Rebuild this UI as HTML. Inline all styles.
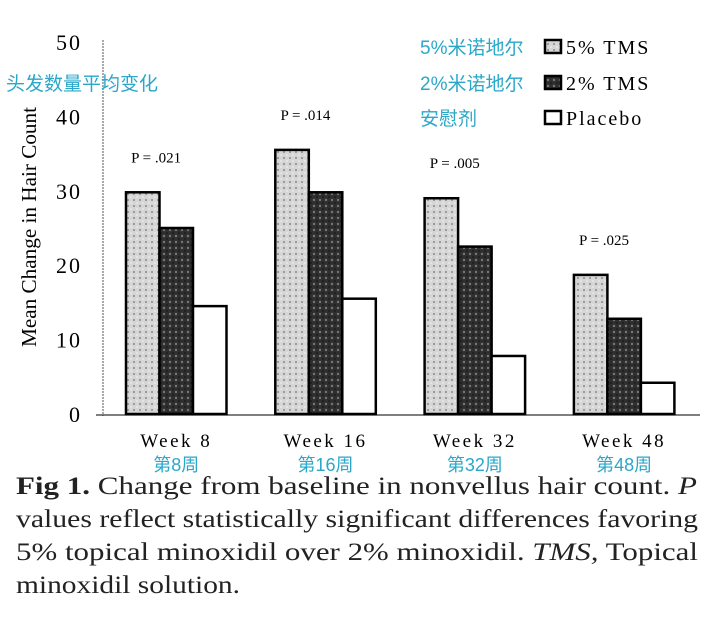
<!DOCTYPE html>
<html><head><meta charset="utf-8"><style>
body{margin:0;background:#fff;width:720px;height:619px;overflow:hidden}
svg{display:block}
.s{font-family:"Liberation Serif",serif}
.c{font-family:"Liberation Sans","Noto Sans CJK SC",sans-serif;fill:#2aa7c9}
</style></head><body>
<svg id="chart" width="720" height="619">
<defs>
<pattern id="pl" width="6" height="6" patternUnits="userSpaceOnUse"><rect width="6" height="6" fill="#d6d6d6"/><circle cx="2" cy="2" r="1" fill="#888"/><circle cx="5" cy="5" r="0.8" fill="#f4f4f4"/></pattern>
<pattern id="pd" width="6" height="6" patternUnits="userSpaceOnUse"><rect width="6" height="6" fill="#2e2e2e"/><circle cx="2" cy="2" r="1.2" fill="#777"/><circle cx="5" cy="5" r="0.8" fill="#111"/></pattern>
</defs>
<g id="axes"></g><g id="bars"></g>
<text class="s" transform="translate(36,227) rotate(-90)" text-anchor="middle" font-size="21" textLength="240" lengthAdjust="spacingAndGlyphs">Mean Change in Hair Count</text>
<text class="c" x="6" y="90" font-size="19">头发数量平均变化</text>
<g>
<text class="c" x="420" y="54" font-size="19">5%米诺地尔</text>
<rect x="545" y="40" width="16" height="13" fill="url(#pl)" stroke="#000" stroke-width="2.5"/>
<text class="s" x="566" y="54" font-size="20" letter-spacing="2">5% TMS</text>
<text class="c" x="420" y="90" font-size="19">2%米诺地尔</text>
<rect x="545" y="76" width="16" height="13" fill="url(#pd)" stroke="#000" stroke-width="2.5"/>
<text class="s" x="566" y="90" font-size="20" letter-spacing="2">2% TMS</text>
<text class="c" x="420" y="125" font-size="19">安慰剂</text>
<rect x="545" y="111" width="16" height="13" fill="#fff" stroke="#000" stroke-width="2.5"/>
<text class="s" x="566" y="125" font-size="20" letter-spacing="2">Placebo</text>
</g>
<g class="s" font-size="25" fill="#222">
<text x="16" y="494" textLength="681" lengthAdjust="spacingAndGlyphs"><tspan font-weight="bold">Fig 1.</tspan> Change from baseline in nonvellus hair count. <tspan font-style="italic">P</tspan></text>
<text x="16" y="527" textLength="682" lengthAdjust="spacingAndGlyphs">values reflect statistically significant differences favoring</text>
<text x="16" y="560" textLength="682" lengthAdjust="spacingAndGlyphs">5% topical minoxidil over 2% minoxidil. <tspan font-style="italic">TMS,</tspan> Topical</text>
<text x="16" y="593" textLength="224" lengthAdjust="spacingAndGlyphs">minoxidil solution.</text>
</g>
</svg>
<script>
const categories=["Week 8","Week 16","Week 32","Week 48"];
const categoriesCn=["第8周","第16周","第32周","第48周"];
const tms5=[29.8,35.5,29,18.7];
const tms2=[25,29.8,22.5,12.8];
const placebo=[14.5,15.5,7.8,4.2];
const pLabels=["P = .021","P = .014","P = .005","P = .025"];
const yTicks=[0,10,20,30,40,50];
const NS="http://www.w3.org/2000/svg";
const y=v=>414-v*7.44;
const gx=i=>126+i*149.3;
const bw=33.5;
function mk(t,a,p){const e=document.createElementNS(NS,t);for(const k in a)e.setAttribute(k,a[k]);p.appendChild(e);return e;}
const ax=document.getElementById('axes'),bars=document.getElementById('bars');
const yl=mk('line',{x1:103,y1:40,x2:103,y2:416,stroke:'#555','stroke-width':1,'stroke-dasharray':'2,1'},ax);


const xl=mk('line',{x1:96,y1:415,x2:700,y2:415,stroke:'#333','stroke-width':1.2},ax);


yTicks.forEach(v=>{const t=mk('text',{x:82,y:y(v)+8,'text-anchor':'end','font-size':22,class:'s','letter-spacing':'2'},ax);t.textContent=v;

});
const series=[[tms5,'url(#pl)','tms5'],[tms2,'url(#pd)','tms2'],[placebo,'#fff','placebo']];
categories.forEach((c,i)=>{
 series.forEach((s,j)=>{const v=s[0][i];const r=mk('rect',{x:gx(i)+j*bw,y:y(v),width:bw,height:414-y(v),fill:s[1],stroke:'#000','stroke-width':2.5},bars);
 
 });
 const p=mk('text',{x:gx(i)+bw*0.9,y:y(tms5[i])-30,'text-anchor':'middle','font-size':15,class:'s'},bars);p.textContent=pLabels[i];
 
 
 const t=mk('text',{x:gx(i)+bw*1.5,y:447,'text-anchor':'middle','font-size':19,class:'s','letter-spacing':'2.5'},bars);t.textContent=c;
 
 
 const t2=mk('text',{x:gx(i)+bw*1.5,y:471,'text-anchor':'middle','font-size':18,class:'c'},bars);t2.textContent=categoriesCn[i];
 
 
});
</script>
</body></html>
